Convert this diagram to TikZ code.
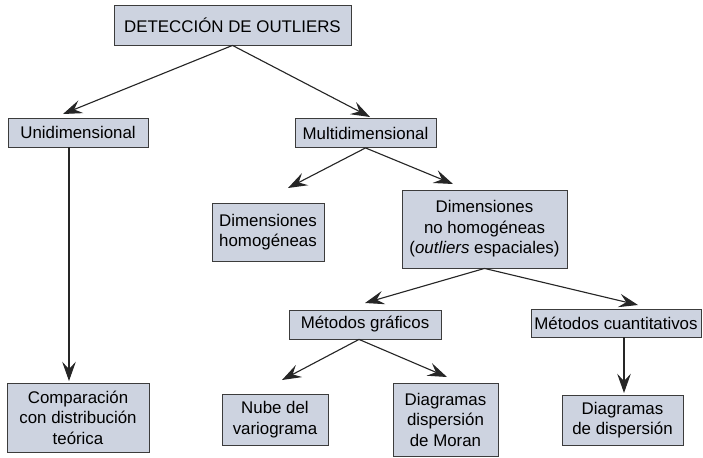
\documentclass[tikz,border=0pt]{standalone}
\usepackage{fontspec}
\setmainfont{Liberation Sans}
\usetikzlibrary{arrows.meta, positioning, calc}
\definecolor{boxfill}{RGB}{205,211,224}
\definecolor{boxline}{RGB}{60,60,60}
\tikzset{
  box/.style   = {rectangle, draw=boxline, fill=boxfill, line width=0.6pt,
                  align=center, inner sep=1pt,
                  font=\fontsize{12}{14.6}\selectfont},
  link/.style  = {-{Stealth[length=4.8mm, width=3.4mm, inset=1.8mm]},
                  line width=0.8pt, draw=black!85},
}

\begin{document}
\begin{tikzpicture}
  \useasboundingbox (0,0) rectangle (17.575,-11.425);
  % ---- root
  \node[box, minimum width=5.925cm, minimum height=1.0cm] (root) at (5.8125,-0.625)
       {DETECCIÓN DE OUTLIERS};
  % ---- first level
  \node[box, minimum width=3.5cm, minimum height=0.725cm] (uni) at (1.95,-3.3125)
       {Unidimensional};
  \node[box, minimum width=3.525cm, minimum height=0.725cm] (multi) at (9.1375,-3.325)
       {Multidimensional};
  % ---- second level
  \node[box, minimum width=2.8cm, minimum height=1.45cm] (homog) at (6.7,-5.8)
       {Dimensiones\\homogéneas};
  \node[box, minimum width=4.125cm, minimum height=1.95cm] (nohomog) at (12.1125,-5.725)
       {Dimensiones\\no homogéneas\\(\textit{outliers} espaciales)};
  % ---- methods
  \node[box, minimum width=3.8cm, minimum height=0.725cm] (graf) at (9.125,-8.1125)
       {Métodos gráficos};
  \node[box, minimum width=4.25cm, minimum height=0.7cm] (cuant) at (15.4,-8.075)
       {Métodos cuantitativos};
  % ---- leaves
  \node[box, minimum width=3.55cm, minimum height=1.725cm] (comp) at (1.95,-10.4375)
       {Comparación\\con distribución\\teórica};
  \node[box, minimum width=2.65cm, minimum height=1.275cm] (nube) at (6.875,-10.4875)
       {Nube del\\variograma};
  \node[box, minimum width=2.625cm, minimum height=1.825cm] (moran) at (11.1375,-10.4875)
       {Diagramas\\dispersión\\de Moran};
  \node[box, minimum width=3.025cm, minimum height=1.25cm] (disp) at (15.5625,-10.5)
       {Diagramas\\de dispersión};
  % ---- arrow tips (they stop short of the boxes)
  \coordinate (uni-tip)     at (1.575,-2.85);
  \coordinate (multi-tip)   at (9.25,-2.925);
  \coordinate (comp-tip)    at (1.725,-9.525);
  \coordinate (homog-tip)   at (7.2,-4.7);
  \coordinate (nohomog-tip) at (11.325,-4.6);
  \coordinate (graf-tip)    at (9.125,-7.575);
  \coordinate (cuant-tip)   at (15.95,-7.625);
  \coordinate (nube-tip)    at (7.05,-9.5);
  \coordinate (moran-tip)   at (11.175,-9.425);
  \coordinate (disp-tip)    at (15.6,-9.825);
  % ---- connectors
  \draw[link] (root.south) -- (uni-tip);
  \draw[link] (root.south) -- (multi-tip);
  \draw[link] (uni.south -| comp-tip) -- (comp-tip);
  \draw[link] (multi.south) -- (homog-tip);
  \draw[link] (multi.south) -- (nohomog-tip);
  \draw[link] (nohomog.south) -- (graf-tip);
  \draw[link] (nohomog.south) -- (cuant-tip);
  \draw[link] ($(graf.south)+(-0.15,0)$) -- (nube-tip);
  \draw[link] ($(graf.south)+(-0.15,0)$) -- (moran-tip);
  \draw[link] (cuant.south -| disp-tip) -- (disp-tip);
\end{tikzpicture}
\end{document}
